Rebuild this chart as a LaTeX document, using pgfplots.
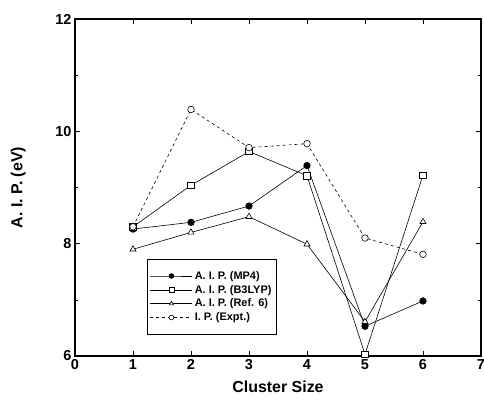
\documentclass[border=0pt]{standalone}
\usepackage{fontspec}
\setmainfont{Liberation Sans}
\usepackage{pgfplots}
\pgfplotsset{compat=1.18}
\begin{document}
\begin{tikzpicture}
\begin{axis}[
 scale only axis, width=406bp, height=337bp,
 xmin=0, xmax=7, ymin=6, ymax=12,
 xtick={0,1,2,3,4,5,6,7}, ytick={6,8,10,12}, minor ytick={7,9,11},
 tick align=inside, major tick length=5bp, minor tick length=3bp,
 axis line style={line width=1.1bp},
 every tick/.style={black, line width=0.6bp},
 tick label style={font=\bfseries\fontsize{14.5}{14.5}\selectfont},
 /pgf/number format/assume math mode=true,
 xlabel={Cluster Size}, ylabel={A. I. P. (eV)},
 label style={font=\bfseries\fontsize{16}{16}\selectfont},
 xlabel style={at={(axis description cs:0.5,-0.092)}, anchor=center},
 ylabel style={at={(axis description cs:-0.14,0.5)}, anchor=center},
 legend style={at={(axis cs:1.24,7.73)}, anchor=north west, draw=black, line width=0.5bp,
   font=\bfseries\fontsize{11}{11}\selectfont, inner xsep=3bp, inner ysep=10bp,
   nodes={inner ysep=2.2bp},
   /tikz/every even column/.append style={column sep=5bp}},
 legend cell align=left,
 legend image code/.code={\draw[mark repeat=2,mark phase=2,mark size=2.4bp] plot coordinates {(0bp,0bp)(21bp,0bp)(42bp,0bp)};},
]
\addplot[black, line width=0.6bp, mark=*, mark size=3.3bp] coordinates {
 (1,8.26) (2,8.38) (3,8.67) (4,9.39) (5,6.53) (6,6.98)};
\addlegendentry{A. I. P. (MP4)}
\addplot[black, line width=0.6bp, mark=square*, mark size=3.2bp, mark options={fill=white}] coordinates {
 (1,8.30) (2,9.04) (3,9.64) (4,9.21) (5,6.03) (6,9.22)};
\addlegendentry{A. I. P. (B3LYP)}
\addplot[black, line width=0.6bp, mark=triangle*, mark size=3.5bp, mark options={fill=white}] coordinates {
 (1,7.90) (2,8.20) (3,8.48) (4,7.99) (5,6.61) (6,8.39)};
\addlegendentry{A. I. P. (Ref. 6)}
\addplot[black, line width=0.6bp, dash pattern=on 3bp off 3bp, mark=*, mark size=3.3bp, mark options={fill=white, solid}] coordinates {
 (1,8.30) (2,10.39) (3,9.71) (4,9.78) (5,8.10) (6,7.81)};
\addlegendentry{I. P. (Expt.)}
\end{axis}
\pgfresetboundingbox
\path (-75bp,-46bp) rectangle (409bp,356bp);
\end{tikzpicture}
\end{document}
